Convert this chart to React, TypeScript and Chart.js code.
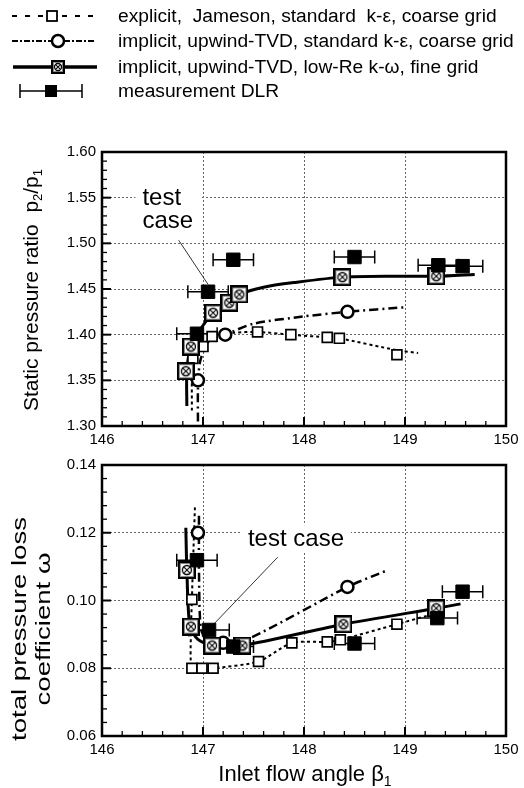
import React, { useEffect, useRef } from "react";
import { Chart, registerables } from "chart.js";

Chart.register(...registerables);

const FONT = "'Liberation Sans', Arial, Helvetica, sans-serif";

// ---------------- axes ----------------
const xTicks = [146, 147, 148, 149, 150];
const topYTicks = [1.3, 1.35, 1.4, 1.45, 1.5, 1.55, 1.6];
const botYTicks = [0.06, 0.08, 0.1, 0.12, 0.14];

// ---------------- legend ----------------
const legendLabels = [
  "explicit,  Jameson, standard  k-\u03b5, coarse grid",
  "implicit, upwind-TVD, standard k-\u03b5, coarse grid",
  "implicit, upwind-TVD, low-Re k-\u03c9, fine grid",
  "measurement DLR",
];

// ---------------- top chart: static pressure ratio ----------------
const topExpX = [146.9, 147.0, 147.09, 147.54, 147.87, 148.23, 148.35, 148.92];
const topExpY = [1.374, 1.387, 1.398, 1.403, 1.4, 1.397, 1.396, 1.378];
const topExpLineX = [146.89, 146.89, 146.9, 147.0, 147.09, 147.3, 147.54, 147.87, 148.23, 148.35, 148.92, 149.13];
const topExpLineY = [1.317, 1.35, 1.374, 1.387, 1.398, 1.402, 1.403, 1.4, 1.397, 1.396, 1.383, 1.38];

const topImpX = [146.95, 147.22, 148.43];
const topImpY = [1.35, 1.4, 1.425];
const topImpLineX = [146.95, 146.95, 146.97, 147.05, 147.22, 147.5, 148.0, 148.43, 149.0];
const topImpLineY = [1.305, 1.34, 1.37, 1.392, 1.4, 1.412, 1.42, 1.425, 1.43];

const topFineX = [146.83, 146.88, 147.1, 147.26, 147.36, 148.38, 149.31];
const topFineY = [1.36, 1.387, 1.424, 1.435, 1.444, 1.463, 1.464];
const topFineLineX = [146.84, 146.84, 146.88, 147.0, 147.1, 147.26, 147.36, 147.6, 147.9, 148.38, 148.9, 149.31, 149.69];
const topFineLineY = [1.322, 1.36, 1.387, 1.41, 1.424, 1.435, 1.444, 1.452, 1.457, 1.463, 1.464, 1.464, 1.466];

const topMeasX = [146.94, 147.05, 147.3, 148.5, 149.33, 149.57];
const topMeasY = [1.401, 1.447, 1.482, 1.485, 1.476, 1.475];
const topMeasErr = [0.2, 0.2, 0.2, 0.2, 0.2, 0.2];

// ---------------- bottom chart: total pressure loss ----------------
const botExpX = [146.89, 146.89, 146.99, 147.1, 147.55, 147.88, 148.23, 148.36, 148.92];
const botExpY = [0.1003, 0.08, 0.08, 0.08, 0.082, 0.0875, 0.0878, 0.0884, 0.093];
const botExpLineX = [146.92, 146.9, 146.89, 146.88, 146.89, 146.99, 147.1, 147.55, 147.88, 148.23, 148.36, 148.92, 149.22];
const botExpLineY = [0.1275, 0.11, 0.1003, 0.09, 0.08, 0.08, 0.08, 0.082, 0.0875, 0.0878, 0.0884, 0.093, 0.0955];

const botImpX = [146.95, 147.2, 148.43];
const botImpY = [0.12, 0.0875, 0.104];
const botImpLineX = [146.96, 146.96, 146.97, 147.0, 147.2, 147.47, 148.43, 148.83];
const botImpLineY = [0.125, 0.11, 0.095, 0.09, 0.0875, 0.089, 0.104, 0.109];

const botFineX = [146.84, 146.88, 147.09, 147.39, 148.39, 149.31];
const botFineY = [0.109, 0.0923, 0.0867, 0.0867, 0.093, 0.0977];
const botFineLineX = [146.83, 146.84, 146.87, 146.95, 147.09, 147.39, 148.39, 149.31, 149.55];
const botFineLineY = [0.1215, 0.109, 0.0923, 0.0885, 0.0867, 0.0867, 0.093, 0.0977, 0.099];

const botMeasX = [146.94, 147.06, 147.3, 148.5, 149.32, 149.57];
const botMeasY = [0.1119, 0.0913, 0.0864, 0.0873, 0.0948, 0.1026];
const botMeasErr = [0.2, 0.2, 0.2, 0.2, 0.2, 0.2];

// ---------------- annotations ("test case") ----------------
const topNoteText = ["test", "case"];
const topNoteAt = [146.4, 1.5418];
const topNoteLeader = [146.76, 1.5033, 147.05, 1.455];
const botNoteText = ["test case"];
const botNoteAt = [147.445, 0.1162];
const botNoteLeader = [147.74, 0.1128, 147.1, 0.0928];

// ------------------------------------------------------------------
const pts = (xs: number[], ys: number[]) => xs.map((x, i) => ({ x, y: ys[i] }));

function makeOtimes(size: number) {
  const c = document.createElement("canvas");
  c.width = size;
  c.height = size;
  const g = c.getContext("2d")!;
  const s = size;
  g.fillStyle = "#fff";
  g.fillRect(0, 0, s, s);
  g.strokeStyle = "#000";
  g.lineWidth = 2;
  g.strokeRect(1, 1, s - 2, s - 2);
  g.strokeStyle = "#888";
  g.lineWidth = 1;
  g.strokeRect(2.5, 2.5, s - 5, s - 5);
  const cx = s / 2;
  const r = s * 0.25;
  g.strokeStyle = "#000";
  g.lineWidth = 1.3;
  g.beginPath();
  g.arc(cx, cx, r, 0, Math.PI * 2);
  g.stroke();
  const d = r * 0.7;
  g.lineWidth = 1.1;
  g.beginPath();
  g.moveTo(cx - d, cx - d);
  g.lineTo(cx + d, cx + d);
  g.moveTo(cx + d, cx - d);
  g.lineTo(cx - d, cx + d);
  g.stroke();
  return c;
}

type Part = { t: string; sub?: boolean };

function drawRich(ctx: CanvasRenderingContext2D, parts: Part[], cx: number, cy: number, size: number, rotate: boolean, stretch = 1) {
  ctx.save();
  ctx.translate(cx, cy);
  if (rotate) ctx.rotate(-Math.PI / 2);
  ctx.scale(stretch, 1);
  const subSize = Math.round(size * 0.62);
  let total = 0;
  const widths = parts.map((p) => {
    ctx.font = `${p.sub ? subSize : size}px ${FONT}`;
    const w = ctx.measureText(p.t).width;
    total += w;
    return w;
  });
  let x = -total / 2;
  ctx.fillStyle = "#000";
  ctx.textBaseline = "alphabetic";
  ctx.textAlign = "left";
  parts.forEach((p, i) => {
    ctx.font = `${p.sub ? subSize : size}px ${FONT}`;
    ctx.fillText(p.t, x, size * 0.36 + (p.sub ? size * 0.22 : 0));
    x += widths[i];
  });
  ctx.restore();
}

function decorPlugin(cfg: {
  xMinor: number;
  xMajorEvery: number;
  yMinor: number;
  yMajorEvery: number;
  note: { text: string[]; at: number[]; leader: number[]; size: number; gap: number };
  after: (chart: any) => void;
}) {
  return {
    id: "decor",
    beforeDatasetsDraw(chart: any) {
      const { ctx, scales } = chart;
      const xs = scales.x;
      const ys = scales.y;
      // error bars
      chart.data.datasets.forEach((ds: any) => {
        if (!ds.xErr) return;
        ctx.save();
        ctx.strokeStyle = "#000";
        ctx.lineWidth = 1.5;
        ds.data.forEach((p: any, i: number) => {
          const e = ds.xErr[i];
          const x0 = xs.getPixelForValue(p.x - e);
          const x1 = xs.getPixelForValue(p.x + e);
          const y = ys.getPixelForValue(p.y);
          ctx.beginPath();
          ctx.moveTo(x0, y);
          ctx.lineTo(x1, y);
          ctx.moveTo(x0, y - 6.5);
          ctx.lineTo(x0, y + 6.5);
          ctx.moveTo(x1, y - 6.5);
          ctx.lineTo(x1, y + 6.5);
          ctx.stroke();
        });
        ctx.restore();
      });
      // annotation
      const n = cfg.note;
      ctx.save();
      ctx.font = `${n.size}px ${FONT}`;
      const tx = xs.getPixelForValue(n.at[0]);
      const ty = ys.getPixelForValue(n.at[1]);
      let maxW = 0;
      n.text.forEach((t) => (maxW = Math.max(maxW, ctx.measureText(t).width)));
      ctx.fillStyle = "#fff";
      ctx.fillRect(tx - 7, ty - n.size * 0.85, maxW + 14, n.size * 1.1 + (n.text.length - 1) * n.gap);
      ctx.fillStyle = "#000";
      ctx.textBaseline = "alphabetic";
      n.text.forEach((t, i) => ctx.fillText(t, tx, ty + i * n.gap));
      ctx.strokeStyle = "#000";
      ctx.lineWidth = 0.8;
      ctx.beginPath();
      ctx.moveTo(xs.getPixelForValue(n.leader[0]), ys.getPixelForValue(n.leader[1]));
      ctx.lineTo(xs.getPixelForValue(n.leader[2]), ys.getPixelForValue(n.leader[3]));
      ctx.stroke();
      ctx.restore();
    },
    afterDraw(chart: any) {
      const { ctx, chartArea: a, scales } = chart;
      const xs = scales.x;
      const ys = scales.y;
      ctx.save();
      ctx.strokeStyle = "#000";
      const nx = Math.round((xs.max - xs.min) / cfg.xMinor);
      for (let i = 1; i < nx; i++) {
        const major = i % cfg.xMajorEvery === 0;
        const px = xs.getPixelForValue(xs.min + i * cfg.xMinor);
        ctx.lineWidth = major ? 2 : 1.3;
        ctx.beginPath();
        ctx.moveTo(px, a.bottom);
        ctx.lineTo(px, a.bottom - (major ? 9 : 5));
        ctx.stroke();
      }
      const ny = Math.round((ys.max - ys.min) / cfg.yMinor);
      for (let i = 1; i < ny; i++) {
        const major = i % cfg.yMajorEvery === 0;
        const py = ys.getPixelForValue(ys.min + i * cfg.yMinor);
        ctx.lineWidth = major ? 2 : 1.3;
        ctx.beginPath();
        ctx.moveTo(a.left, py);
        ctx.lineTo(a.left + (major ? 9 : 5), py);
        ctx.stroke();
      }
      ctx.lineWidth = 2.5;
      ctx.strokeRect(a.left, a.top, a.right - a.left, a.bottom - a.top);
      ctx.restore();
      cfg.after(chart);
    },
  };
}

function buildDatasets(d: {
  measX: number[]; measY: number[]; measErr: number[];
  fineX: number[]; fineY: number[]; fineLX: number[]; fineLY: number[];
  impX: number[]; impY: number[]; impLX: number[]; impLY: number[];
  expX: number[]; expY: number[]; expLX: number[]; expLY: number[];
}, otimes: HTMLCanvasElement) {
  return [
    {
      label: "measurement DLR",
      data: pts(d.measX, d.measY),
      xErr: d.measErr,
      pointStyle: "rect",
      pointRadius: 9.5,
      backgroundColor: "#000",
      borderColor: "#000",
      borderWidth: 1,
      showLine: false,
    },
    {
      label: "fine markers",
      data: pts(d.fineX, d.fineY),
      pointStyle: otimes,
      pointRadius: 9,
      showLine: false,
    },
    {
      label: "implicit markers",
      data: pts(d.impX, d.impY),
      pointStyle: "circle",
      pointRadius: 6,
      backgroundColor: "#fff",
      borderColor: "#000",
      borderWidth: 2.5,
      showLine: false,
    },
    {
      label: "explicit markers",
      data: pts(d.expX, d.expY),
      pointStyle: "rect",
      pointRadius: 7,
      backgroundColor: "#fff",
      borderColor: "#000",
      borderWidth: 1.7,
      showLine: false,
    },
    {
      label: "fine line",
      data: pts(d.fineLX, d.fineLY),
      showLine: true,
      pointRadius: 0,
      borderColor: "#000",
      borderWidth: 3,
      tension: 0.25,
    },
    {
      label: "implicit line",
      data: pts(d.impLX, d.impLY),
      showLine: true,
      pointRadius: 0,
      borderColor: "#000",
      borderWidth: 2.5,
      borderDash: [9, 4, 2, 4],
      tension: 0.25,
    },
    {
      label: "explicit line",
      data: pts(d.expLX, d.expLY),
      showLine: true,
      pointRadius: 0,
      borderColor: "#000",
      borderWidth: 2,
      borderDash: [3, 3],
      tension: 0.25,
    },
  ];
}

function scaleOpts(yTicks: number[], xAxisH: number) {
  const yMin = yTicks[0];
  const yMax = yTicks[yTicks.length - 1];
  const gridColor = (min: number, max: number) => (c: any) =>
    c.tick && (Math.abs(c.tick.value - min) < 1e-9 || Math.abs(c.tick.value - max) < 1e-9) ? "rgba(0,0,0,0)" : "#666";
  return {
    x: {
      type: "linear",
      min: xTicks[0],
      max: xTicks[xTicks.length - 1],
      afterFit: (s: any) => {
        s.height = xAxisH;
      },
      afterBuildTicks: (s: any) => {
        s.ticks = xTicks.map((v) => ({ value: v }));
      },
      ticks: {
        padding: 5,
        color: "#000",
        maxRotation: 0,
        autoSkip: false,
        font: { family: FONT, size: 15 },
        callback: (v: any) => String(v),
      },
      grid: { color: gridColor(xTicks[0], xTicks[xTicks.length - 1]), lineWidth: 1, drawTicks: false },
      border: { display: false, dash: [2, 2] },
    },
    y: {
      type: "linear",
      min: yMin,
      max: yMax,
      afterFit: (s: any) => {
        s.width = 102;
      },
      afterBuildTicks: (s: any) => {
        s.ticks = yTicks.map((v) => ({ value: v }));
      },
      ticks: {
        padding: 6,
        color: "#000",
        autoSkip: false,
        font: { family: FONT, size: 15 },
        callback: (v: any) => Number(v).toFixed(2),
      },
      grid: { color: gridColor(yMin, yMax), lineWidth: 1, drawTicks: false },
      border: { display: false, dash: [2, 2] },
    },
  };
}

function drawLegend(ctx: CanvasRenderingContext2D, small: HTMLCanvasElement) {
  const rows = [16, 41, 67, 91];
  ctx.save();
  ctx.strokeStyle = "#000";
  const seg = (x0: number, x1: number, y: number) => {
    ctx.beginPath();
    ctx.moveTo(x0, y);
    ctx.lineTo(x1, y);
    ctx.stroke();
  };
  // row 1: dashed + open square
  let y = rows[0];
  ctx.lineWidth = 2;
  ctx.setLineDash([5, 8]);
  seg(12, 47, y);
  seg(62, 96, y);
  ctx.setLineDash([]);
  ctx.fillStyle = "#fff";
  ctx.fillRect(47, y - 5, 10, 10);
  ctx.lineWidth = 1.8;
  ctx.strokeRect(47, y - 5, 10, 10);
  // row 2: dash-dot + circle
  y = rows[1];
  ctx.lineWidth = 2;
  ctx.setLineDash([6, 2, 2, 2]);
  seg(12, 52, y);
  seg(64, 96, y);
  ctx.setLineDash([]);
  ctx.beginPath();
  ctx.arc(58, y, 6, 0, Math.PI * 2);
  ctx.fillStyle = "#fff";
  ctx.fill();
  ctx.lineWidth = 2.5;
  ctx.stroke();
  // row 3: solid + otimes
  y = rows[2];
  ctx.lineWidth = 3.5;
  seg(13, 97, y);
  ctx.drawImage(small, Math.round(58 - small.width / 2), Math.round(y - small.height / 2));
  // row 4: error bar + filled square
  y = rows[3];
  ctx.lineWidth = 1.5;
  seg(20, 82, y);
  ctx.beginPath();
  ctx.moveTo(20, y - 7);
  ctx.lineTo(20, y + 7);
  ctx.moveTo(82, y - 7);
  ctx.lineTo(82, y + 7);
  ctx.stroke();
  ctx.fillStyle = "#000";
  ctx.fillRect(45, y - 6, 12, 12);
  // text
  ctx.font = `19.2px ${FONT}`;
  ctx.textBaseline = "middle";
  ctx.fillStyle = "#000";
  legendLabels.forEach((t, i) => ctx.fillText(t, 118, rows[i] + 1));
  ctx.restore();
}

export default function App() {
  const topRef = useRef<HTMLCanvasElement>(null);
  const botRef = useRef<HTMLCanvasElement>(null);

  useEffect(() => {
    const otimes = makeOtimes(18);
    const otimesSmall = makeOtimes(14);

    const top = new Chart(topRef.current!, {
      type: "scatter",
      data: {
        datasets: buildDatasets(
          {
            measX: topMeasX, measY: topMeasY, measErr: topMeasErr,
            fineX: topFineX, fineY: topFineY, fineLX: topFineLineX, fineLY: topFineLineY,
            impX: topImpX, impY: topImpY, impLX: topImpLineX, impLY: topImpLineY,
            expX: topExpX, expY: topExpY, expLX: topExpLineX, expLY: topExpLineY,
          },
          otimes
        ) as any,
      },
      options: {
        responsive: false,
        animation: false,
        events: [],
        layout: { padding: { top: 152, left: 0, right: 18, bottom: 0 } },
        plugins: { legend: { display: false }, tooltip: { enabled: false } },
        scales: scaleOpts(topYTicks, 24) as any,
      },
      plugins: [
        decorPlugin({
          xMinor: 0.2,
          xMajorEvery: 5,
          yMinor: 0.01,
          yMajorEvery: 5,
          note: { text: topNoteText, at: topNoteAt, leader: topNoteLeader, size: 24, gap: 23 },
          after: (chart: any) => {
            const ctx = chart.ctx as CanvasRenderingContext2D;
            drawLegend(ctx, otimesSmall);
            drawRich(
              ctx,
              [{ t: "Static pressure ratio  p" }, { t: "2", sub: true }, { t: "/p" }, { t: "1", sub: true }],
              30,
              290,
              21,
              true
            );
          },
        }) as any,
      ],
    });

    const bot = new Chart(botRef.current!, {
      type: "scatter",
      data: {
        datasets: buildDatasets(
          {
            measX: botMeasX, measY: botMeasY, measErr: botMeasErr,
            fineX: botFineX, fineY: botFineY, fineLX: botFineLineX, fineLY: botFineLineY,
            impX: botImpX, impY: botImpY, impLX: botImpLineX, impLY: botImpLineY,
            expX: botExpX, expY: botExpY, expLX: botExpLineX, expLY: botExpLineY,
          },
          otimes
        ) as any,
      },
      options: {
        responsive: false,
        animation: false,
        events: [],
        layout: { padding: { top: 11, left: 0, right: 18, bottom: 0 } },
        plugins: { legend: { display: false }, tooltip: { enabled: false } },
        scales: scaleOpts(botYTicks, 52) as any,
      },
      plugins: [
        decorPlugin({
          xMinor: 0.2,
          xMajorEvery: 5,
          yMinor: 0.004,
          yMajorEvery: 5,
          note: { text: botNoteText, at: botNoteAt, leader: botNoteLeader, size: 24, gap: 23 },
          after: (chart: any) => {
            const ctx = chart.ctx as CanvasRenderingContext2D;
            drawRich(ctx, [{ t: "total pressure loss" }], 19, 179, 20, true, 1.38);
            drawRich(ctx, [{ t: "coefficient \u03c9" }], 43, 179, 20, true, 1.38);
            drawRich(ctx, [{ t: "Inlet flow angle \u03b2" }, { t: "1", sub: true }], 305, 323, 22, false);
          },
        }) as any,
      ],
    });

    return () => {
      top.destroy();
      bot.destroy();
    };
  }, []);

  return (
    <div style={{ position: "absolute", left: 0, top: 0, width: 524, height: 788, background: "#fff" }}>
      <canvas ref={topRef} width={524} height={450} style={{ position: "absolute", left: 0, top: 0 }} />
      <canvas ref={botRef} width={524} height={338} style={{ position: "absolute", left: 0, top: 450 }} />
    </div>
  );
}
